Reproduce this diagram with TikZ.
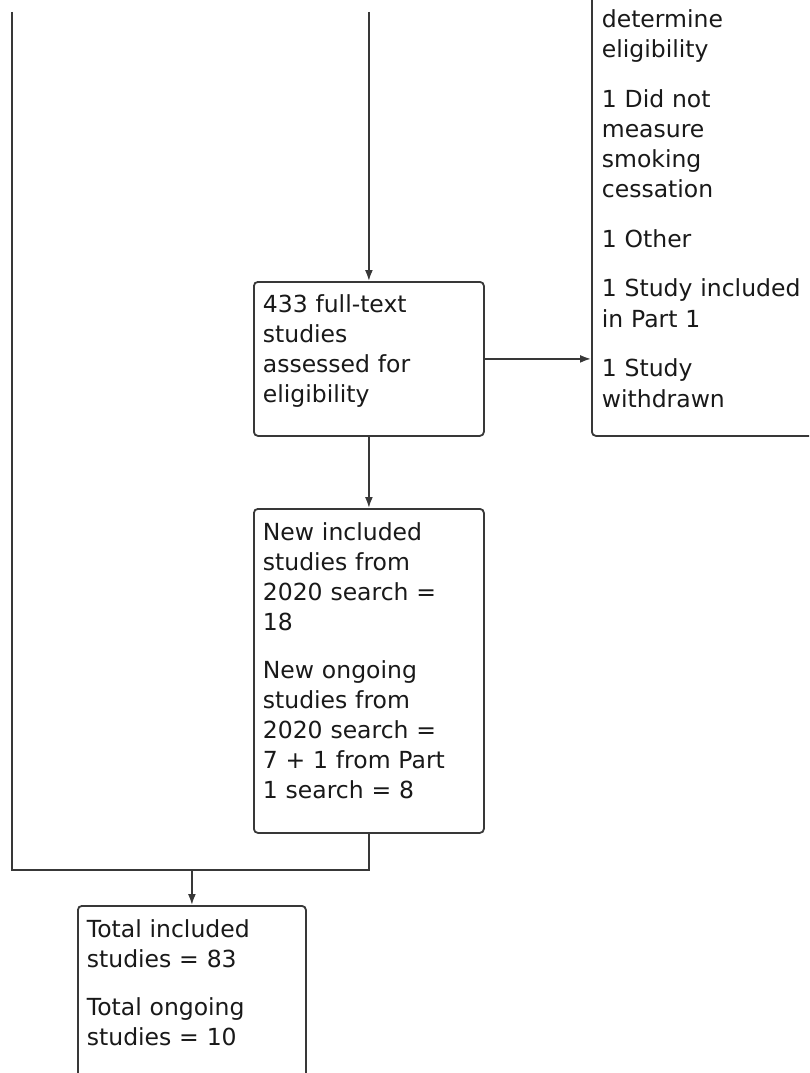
\documentclass[tikz,border=0pt]{standalone}
\usepackage{fontspec}
\setmainfont{DejaVu Sans}
\usetikzlibrary{arrows.meta,calc}
\begin{document}
\begin{tikzpicture}[x=1pt,y=-1pt,
  line width=1.8pt,
  color=black!78,
  boxstyle/.style={draw=black!78, line width=1.8pt, rounded corners=4pt, rectangle, inner sep=0pt, anchor=north west},
  txt/.style={inner sep=0pt, anchor=base west, align=left, text width=215pt, text=black!90,
    font=\fontsize{23.5pt}{30pt}\selectfont},
  arr/.style={-{Latex[length=11pt,width=8pt]}}
]
\useasboundingbox (0,0) rectangle (809,1073);
\clip (0,0) rectangle (809,1073);
\fill[white] (0,0) rectangle (809,1073);

% boxes
\node[boxstyle, minimum width=230pt, minimum height=154pt] (b1) at (253,281) {};
\node[boxstyle, minimum width=230pt, minimum height=324pt] (b2) at (253,508) {};
\node[boxstyle, minimum width=228pt, minimum height=220pt] (b3) at (77,905) {};
\node[boxstyle, minimum width=320pt, minimum height=500pt] (rb) at (591,-65) {};

% texts
\node[txt] (t1) at ($(b1.north west)+(9,31)$) {433 full-text\\studies\\assessed for\\eligibility};
\node[txt] (t2) at ($(b2.north west)+(9,32)$) {New included\\studies from\\2020 search =\\18\\[18pt]New ongoing\\studies from\\2020 search =\\7 + 1 from Part\\1 search = 8};
\node[txt] (t3) at ($(b3.north west)+(9,32)$) {Total included\\studies = 83\\[18pt]Total ongoing\\studies = 10};
\node[txt] (tr) at (601,28) {determine\\eligibility\\[20pt]1 Did not\\measure\\smoking\\cessation\\[19pt]1 Other\\[20pt]1 Study included\\in Part 1\\[20pt]1 Study\\withdrawn};

% connectors
\coordinate (topC) at (b1.north |- 0,12);
\coordinate (topL) at (12,12);
\coordinate (merge) at (b2.south |- 0,870);

\draw[arr] (topC) -- (b1.north);
\draw[arr] (b1.east) -- (b1.east -| rb.west);
\draw[arr] (b1.south) -- (b2.north);
\draw (topL) |- (merge) -- (b2.south);
\draw[arr] (merge -| b3.north) -- (b3.north);
\end{tikzpicture}
\end{document}
